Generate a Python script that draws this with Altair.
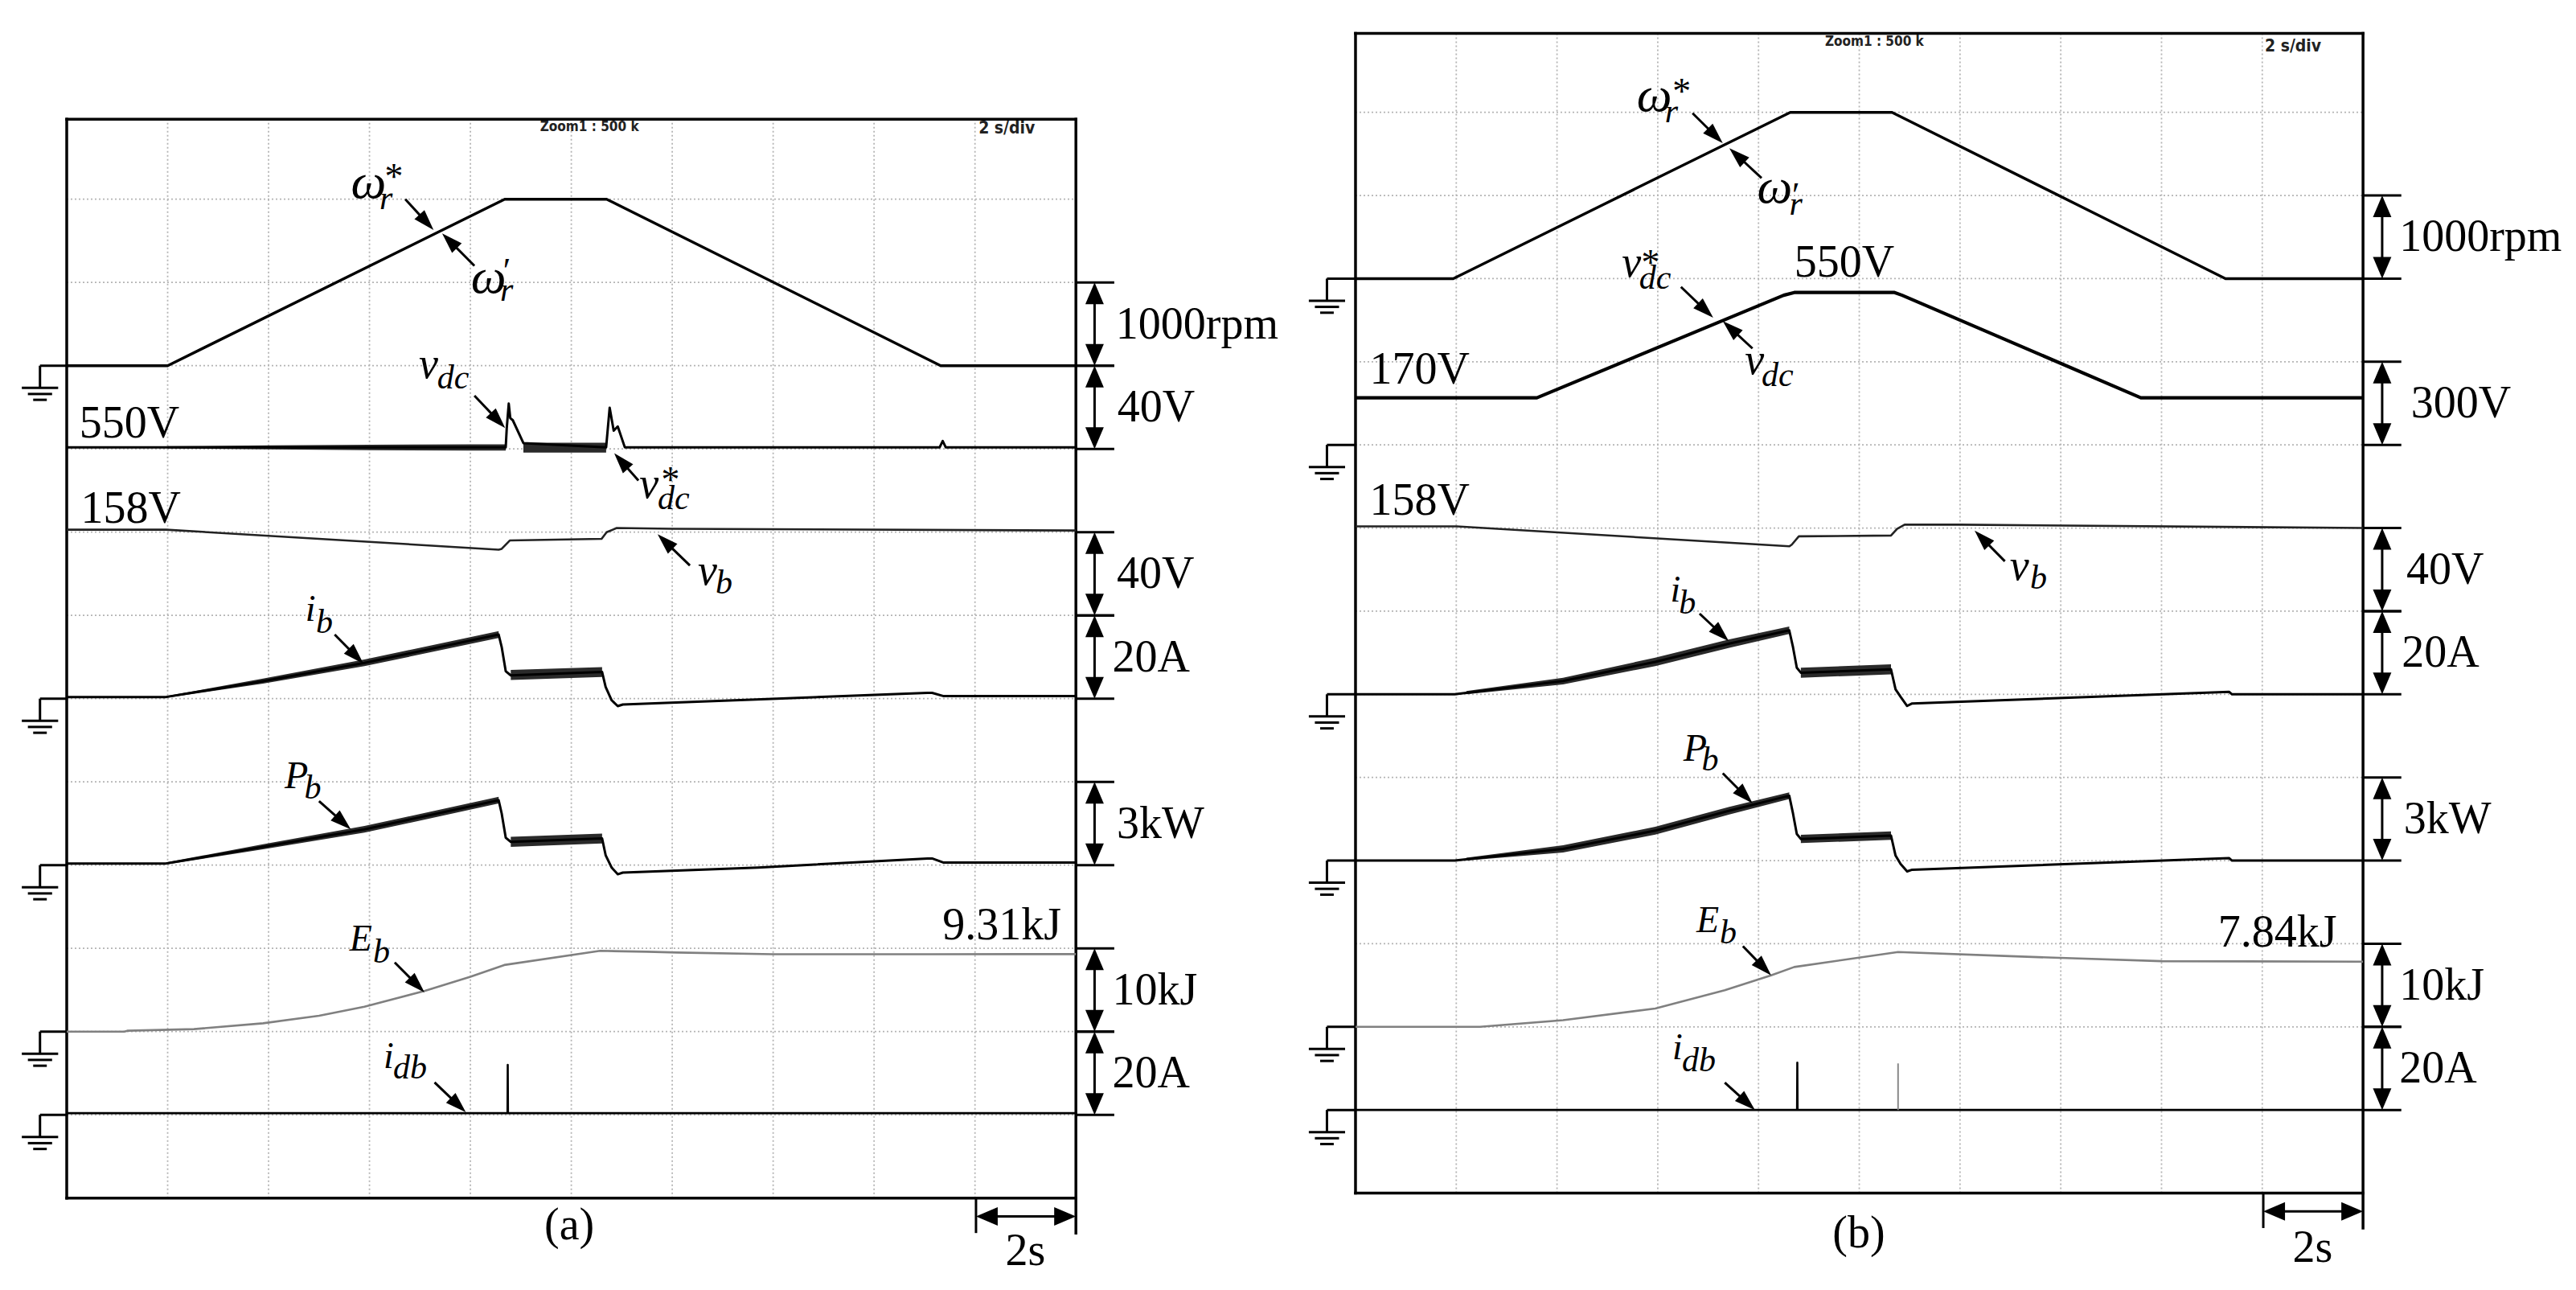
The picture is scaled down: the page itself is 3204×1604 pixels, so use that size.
import math
import altair as alt
import pandas as pd

# ======================= DATA =======================
# time in seconds (2 s/div, 10 div), traces in physical units

# ---------------- panel (a) ----------------
a_wr_t = [0, 2.0, 8.68, 10.70, 17.32, 20]
a_wr_rpm = [0, 0, 2000, 2000, 0, 0]

a_vdc_t = [0, 8.70, 8.72, 8.76, 8.79, 8.84, 9.05, 10.69, 10.76, 10.84, 10.92, 11.06, 17.30, 17.36, 17.42, 20]
a_vdc_V = [550, 550, 559, 571, 564, 563, 552, 550, 569, 558, 560, 550, 550, 553, 550, 550]
a_vdc_n1_t = [2.0, 4.0, 6.0, 8.0, 8.70]
a_vdc_n1_hi = [550.5, 550.9, 551.2, 551.4, 551.4]
a_vdc_n1_lo = [549.5, 549.0, 548.6, 548.4, 548.4]
a_vdc_n2_t = [9.05, 10.69]
a_vdc_n2_hi = [552.2, 552.2]
a_vdc_n2_lo = [547.4, 547.4]

a_vb_t = [0, 1.97, 8.56, 8.62, 8.78, 10.60, 10.70, 10.90, 12.0, 20]
a_vb_V = [158, 158, 148.4, 148.8, 152.8, 153.6, 156.8, 158.8, 158.4, 157.6]

a_ib_t = [0, 1.97, 3.89, 5.90, 8.56, 8.62, 8.70, 8.80, 10.61, 10.68, 10.80, 10.92, 11.02, 13.66, 17.06, 17.15, 17.38, 20]
a_ib_A = [0.4, 0.4, 4.2, 8.6, 15.4, 12.4, 6.6, 5.6, 6.4, 2.8, -0.4, -1.8, -1.4, -0.2, 1.4, 1.4, 0.6, 0.6]
a_ib_r_t = [1.97, 3.89, 5.90, 8.56]
a_ib_r_hi = [0.6, 4.8, 9.4, 16.2]
a_ib_r_lo = [0.2, 3.6, 7.8, 14.6]
a_ib_p_t = [8.80, 10.61]
a_ib_p_hi = [6.9, 7.6]
a_ib_p_lo = [4.5, 5.2]

a_pb_t = [0, 1.97, 3.89, 5.90, 8.56, 8.62, 8.70, 8.80, 10.61, 10.68, 10.80, 10.92, 11.02, 13.70, 17.06, 17.15, 17.38, 20]
a_pb_kW = [0.06, 0.06, 0.66, 1.29, 2.34, 1.86, 0.99, 0.84, 0.96, 0.36, -0.09, -0.33, -0.27, -0.09, 0.24, 0.24, 0.09, 0.09]
a_pb_r_t = [1.97, 3.89, 5.90, 8.56]
a_pb_r_hi = [0.10, 0.75, 1.41, 2.46]
a_pb_r_lo = [0.02, 0.57, 1.17, 2.22]
a_pb_p_t = [8.80, 10.61]
a_pb_p_hi = [1.02, 1.14]
a_pb_p_lo = [0.66, 0.78]

a_eb_t = [0, 1.14, 1.20, 2.52, 3.89, 5.0, 5.9, 7.1, 8.0, 8.67, 10.57, 11.5, 12.1, 14.0, 17.15, 20]
a_eb_kJ = [0, 0, 0.1, 0.3, 1.0, 1.9, 3.0, 4.9, 6.6, 8.0, 9.7, 9.6, 9.5, 9.3, 9.3, 9.31]

a_idb_t = [0, 8.735, 8.74, 8.745, 20]
a_idb_A = [0.4, 0.4, 12.0, 0.4, 0.4]

# ---------------- panel (b) ----------------
b_wr_t = [0, 1.94, 8.63, 10.65, 17.27, 20]
b_wr_rpm = [0, 0, 2000, 2000, 0, 0]

b_vdc_t = [0, 3.60, 8.50, 8.71, 10.70, 10.85, 15.59, 20]
b_vdc_V = [170, 170, 540, 550, 550, 540, 170, 170]

b_vb_t = [0, 2.01, 8.61, 8.66, 8.80, 10.63, 10.75, 10.90, 12.0, 20]
b_vb_V = [158, 158, 148.4, 149.2, 153.2, 153.6, 156.8, 158.8, 158.8, 157.2]

b_ib_t = [0, 1.97, 4.12, 5.95, 7.42, 8.61, 8.68, 8.76, 8.84, 10.63, 10.72, 10.82, 10.95, 11.05, 17.34, 17.40, 20]
b_ib_A = [0, 0, 3.2, 7.8, 12.2, 15.4, 11.6, 6.4, 5.2, 6.0, 1.2, -0.6, -2.8, -2.2, 0.6, 0, 0]
b_ib_r_t = [2.2, 4.12, 5.95, 7.42, 8.61]
b_ib_r_hi = [0.8, 4.0, 8.8, 13.2, 16.3]
b_ib_r_lo = [0.0, 2.4, 6.8, 11.2, 14.5]
b_ib_p_t = [8.84, 10.63]
b_ib_p_hi = [6.4, 7.2]
b_ib_p_lo = [4.0, 4.8]

b_pb_t = [0, 1.97, 4.12, 5.95, 7.42, 8.61, 8.68, 8.76, 8.84, 10.63, 10.72, 10.82, 10.95, 11.05, 17.34, 17.40, 20]
b_pb_kW = [0, 0, 0.42, 1.08, 1.80, 2.34, 1.74, 0.96, 0.78, 0.90, 0.18, -0.12, -0.39, -0.33, 0.09, 0, 0]
b_pb_r_t = [2.2, 4.12, 5.95, 7.42, 8.61]
b_pb_r_hi = [0.10, 0.55, 1.22, 1.94, 2.46]
b_pb_r_lo = [0.00, 0.29, 0.94, 1.66, 2.22]
b_pb_p_t = [8.84, 10.63]
b_pb_p_hi = [0.93, 1.05]
b_pb_p_lo = [0.63, 0.75]

b_eb_t = [0, 2.47, 4.12, 5.95, 7.33, 8.25, 8.71, 10.77, 12.99, 13.98, 16.0, 20]
b_eb_kJ = [0, 0, 0.8, 2.2, 4.4, 6.2, 7.2, 9.0, 8.5, 8.3, 7.9, 7.84]

b_idb_t = [0, 8.765, 8.77, 8.775, 20]
b_idb_A = [0, 0, 11.4, 0, 0]
b_idb2_t = [10.77, 10.77]
b_idb2_A = [0, 11.2]

# channel settings: (reference division, reference value, units per division)
CH = {
    "a": {"wr": (10, 0, 1000), "vdc": (9.02, 550, 40), "vb": (8.03, 158, 40), "ib": (6, 0, 20),
          "pb": (4, 0, 3), "eb": (2, 0, 10), "idb": (1, 0, 20)},
    "b": {"wr": (11, 0, 1000), "vdc": (9, 0, 300), "vb": (8.02, 158, 40), "ib": (6, 0, 20),
          "pb": (4, 0, 3), "eb": (2, 0, 10), "idb": (1, 0, 20)},
}

# ======================= LAYOUT =======================
PX_S = {"a": 62.75, "b": 62.65}
PX_D = {"a": 103.5, "b": 103.37}
XDOM = {"a": [-1.195, 24.49], "b": [-1.053, 24.10]}
YDOM = {"a": [-1.027, 14.316], "b": [-1.088, 14.274]}
WIDTH = {"a": 1612, "b": 1576}
HEIGHT = 1588
TOP = {"a": 12.96, "b": 13.95}
GROUND_X = {"a": -0.53, "b": -0.567}

SERIF = "Liberation Serif"
NARROW = "DejaVu Sans Condensed, Liberation Sans Narrow, Liberation Sans, sans-serif"


def sc(p):
    return (alt.Scale(domain=XDOM[p], nice=False, zero=False),
            alt.Scale(domain=YDOM[p], nice=False, zero=False))


def xy(p):
    xs, ys = sc(p)
    return dict(x=alt.X("t:Q", scale=xs, axis=None), y=alt.Y("d:Q", scale=ys, axis=None))


def todiv(p, ch, vals):
    r, v0, u = CH[p][ch]
    return [r + (v - v0) / u for v in vals]


def trace(p, ch, t, v, color="black", width=3.0):
    df = pd.DataFrame({"t": t, "d": todiv(p, ch, v), "i": list(range(len(t)))})
    return alt.Chart(df).mark_line(color=color, strokeWidth=width, strokeJoin="round").encode(
        order="i:Q", **xy(p))


def band(p, ch, t, lo, hi, color="#2a2a2a"):
    df = pd.DataFrame({"t": t, "d": todiv(p, ch, lo), "d2": todiv(p, ch, hi)})
    return alt.Chart(df).mark_area(color=color, opacity=1).encode(y2="d2:Q", **xy(p))


def rules(p, segs, color="black", width=3.0, dash=None, cap="butt"):
    df = pd.DataFrame(segs, columns=["t", "d", "t2", "d2"])
    kw = dict(color=color, strokeWidth=width, strokeCap=cap)
    if dash is not None:
        kw["strokeDash"] = dash
    return alt.Chart(df).mark_rule(**kw).encode(x2="t2:Q", y2="d2:Q", **xy(p))


def heads(p, pts, size, half):
    df = pd.DataFrame(pts, columns=["t", "d", "ang"])
    shape = f"M0,0L{-half},2L{half},2Z"
    return alt.Chart(df).mark_point(shape=shape, filled=True, color="black", opacity=1,
                                    size=size, strokeWidth=0).encode(
        angle=alt.Angle("ang:Q", scale=None), **xy(p))


def texts(p, items, font=SERIF, style="normal", align="left", color="black", weight="normal"):
    df = pd.DataFrame(items, columns=["txt", "t", "d", "s"])
    return alt.Chart(df).mark_text(font=font, fontStyle=style, align=align, fontWeight=weight,
                                   baseline="alphabetic", color=color).encode(
        text="txt:N", size=alt.Size("s:Q", scale=None), **xy(p))


# annotation content per panel
GROUNDS = {"a": [10, 6, 4, 2, 1], "b": [11, 9, 6, 4, 2, 1]}
BARS = {
    "a": [(10, 11, "1000rpm", 20.79), (9, 10, "40V", 20.82), (7, 8, "40V", 20.81), (6, 7, "20A", 20.72),
          (4, 5, "3kW", 20.81), (2, 3, "10kJ", 20.72), (1, 2, "20A", 20.72)],
    "b": [(11, 12, "1000rpm", 20.72), (9, 10, "300V", 20.95), (7, 8, "40V", 20.86), (6, 7, "20A", 20.77),
          (4, 5, "3kW", 20.81), (2, 3, "10kJ", 20.72), (1, 2, "20A", 20.72)],
}
BAR_X = {"a": 20.37, "b": 20.38}
MAIN = {
    "a": [("ω", 5.98, 12.02, 62), ("ω", 8.36, 10.88, 62), ("v", 7.17, 9.85, 54), ("v", 11.54, 8.41, 54),
          ("v", 12.70, 7.37, 54), ("i", 4.83, 6.93, 46), ("P", 4.55, 4.92, 48), ("E", 5.83, 2.97, 46),
          ("i", 6.38, 1.56, 46)],
    "b": [("ω", 5.93, 13.02, 62), ("ω", 8.32, 11.91, 62), ("v", 5.48, 11.02, 54), ("v", 7.92, 9.85, 54),
          ("v", 13.18, 7.38, 54), ("i", 6.35, 7.12, 46), ("P", 6.74, 5.20, 48), ("E", 6.99, 3.14, 46),
          ("i", 6.39, 1.61, 46)],
}
SUB = {
    "a": [("r", 6.20, 11.88, 42), ("r", 8.59, 10.78, 42), ("dc", 7.34, 9.73, 42), ("dc", 11.71, 8.28, 42),
          ("b", 12.86, 7.26, 42), ("b", 4.94, 6.79, 42), ("b", 4.71, 4.80, 42), ("b", 6.07, 2.83, 42),
          ("db", 6.47, 1.44, 42)],
    "b": [("r", 6.14, 12.88, 42), ("r", 8.61, 11.77, 42), ("dc", 5.63, 10.88, 42), ("dc", 8.06, 9.71, 42),
          ("b", 13.39, 7.27, 42), ("b", 6.42, 6.97, 42), ("b", 6.87, 5.08, 42), ("b", 7.23, 3.00, 42),
          ("db", 6.48, 1.47, 42)],
}
SUP = {
    "a": [("*", 6.45, 12.12, 46), ("′", 8.68, 11.0, 44), ("*", 11.93, 8.48, 46)],
    "b": [("*", 6.44, 13.10, 46), ("′", 8.70, 11.87, 44), ("*", 5.82, 11.04, 46)],
}
ARROWS = {
    "a": [((6.71, 12.0), (7.27, 11.63)), ((8.08, 11.2), (7.44, 11.59)), ((8.08, 9.64), (8.69, 9.25)),
          ((11.33, 8.62), (10.85, 8.95)), ((12.35, 7.60), (11.71, 7.975)), ((5.31, 6.77), (5.88, 6.42)),
          ((5.0, 4.77), (5.63, 4.43)), ((6.5, 2.83), (7.09, 2.47)), ((7.29, 1.39), (7.91, 1.03))],
    "b": [((6.69, 12.99), (7.29, 12.63)), ((8.06, 12.21), (7.42, 12.57)), ((6.46, 10.9), (7.1, 10.53)),
          ((7.88, 10.16), (7.29, 10.49)), ((12.89, 7.60), (12.29, 7.97)), ((6.83, 6.97), (7.41, 6.64)),
          ((7.29, 5.05), (7.88, 4.69)), ((7.69, 2.97), (8.25, 2.62)), ((7.33, 1.33), (7.93, 1.0))],
}
LEFT_LABELS = {
    "a": [("550V", 0.25, 9.14, 56), ("158V", 0.28, 8.11, 56)],
    "b": [("170V", 0.28, 9.74, 56), ("158V", 0.28, 8.16, 56), ("550V", 8.71, 11.02, 56)],
}
RIGHT_LABELS = {"a": [("9.31kJ", 19.71, 3.11, 56)], "b": [("7.84kJ", 19.48, 2.97, 56)]}
CAPTION = {"a": ("(a)", 9.96, -0.50), "b": ("(b)", 9.99, -0.65)}
TWO_S_Y = {"a": -0.80, "b": -0.83}
SCOPE_TXT = {
    "a": [("Zoom1 : 500 k", 10.36, 12.82, 17), ("2 s/div", 18.63, 12.79, 21)],
    "b": [("Zoom1 : 500 k", 10.30, 13.80, 17), ("2 s/div", 18.61, 13.73, 21)],
}


def panel(p):
    L = []
    top = TOP[p]
    # grid
    vg = [(t, 0, t, top) for t in range(2, 20, 2)]
    hg = [(0, d, 20, d) for d in range(1, int(top) + 1)]
    L.append(rules(p, vg + hg, color="#b4b4b4", width=1.8, dash=[2, 3]))
    # frame
    L.append(rules(p, [(0, 0, 20, 0), (0, top, 20, top), (0, 0, 0, top), (20, -0.42, 20, top)],
                   width=3.5, cap="square"))
    # noise bands (under the traces)
    D = globals()
    for name, ch in [("vdc_n1", "vdc"), ("vdc_n2", "vdc"), ("ib_r", "ib"), ("ib_p", "ib"),
                     ("pb_r", "pb"), ("pb_p", "pb")]:
        key = f"{p}_{name}_t"
        if key in D:
            L.append(band(p, ch, D[key], D[f"{p}_{name}_lo"], D[f"{p}_{name}_hi"]))
    # traces
    for ch, unit in [("wr", "rpm"), ("vdc", "V"), ("vb", "V"), ("ib", "A"), ("pb", "kW"), ("eb", "kJ"),
                     ("idb", "A")]:
        t = D[f"{p}_{ch}_t"]
        v = D[f"{p}_{ch}_{unit}"]
        color = "#808080" if ch == "eb" else ("#222222" if ch == "vb" else "black")
        width = {"wr": 3.4, "vdc": 3.0, "vb": 2.6, "ib": 3.0, "pb": 3.0, "eb": 2.6, "idb": 2.6}[ch]
        if p == "b" and ch == "vdc":
            width = 4.2
        L.append(trace(p, ch, t, v, color=color, width=width))
    if p == "b":
        L.append(trace(p, "idb", b_idb2_t, b_idb2_A, color="#888888", width=2.0))
    # ground symbols
    gx = GROUND_X[p]
    gsegs = []
    for g in GROUNDS[p]:
        gsegs += [(gx, g, 0, g), (gx, g, gx, g - 0.266),
                  (gx - 0.36, g - 0.266, gx + 0.36, g - 0.266),
                  (gx - 0.24, g - 0.34, gx + 0.24, g - 0.34),
                  (gx - 0.135, g - 0.41, gx + 0.135, g - 0.41)]
    L.append(rules(p, gsegs, width=3.0))
    # scale bars
    bx = BAR_X[p]
    bsegs, bheads, blabels = [], [], []
    for lo, hi, lab, lx in BARS[p]:
        bsegs += [(20.0, lo, 20.76, lo), (20.0, hi, 20.76, hi), (bx, lo + 0.15, bx, hi - 0.15)]
        bheads += [(bx, hi, 0), (bx, lo, 180)]
        blabels.append((lab, lx, (lo + hi) / 2 - 0.17, 56))
    # 2 s bar
    bsegs += [(18.02, 0, 18.02, -0.42), (18.22, -0.22, 19.8, -0.22)]
    bheads += [(18.02, -0.22, 270), (20.0, -0.22, 90)]
    L.append(rules(p, bsegs, width=3.0))
    L.append(heads(p, bheads, 729, 0.85))
    L.append(texts(p, blabels))
    L.append(texts(p, [("2s", 19.0, TWO_S_Y[p], 56)], align="center"))
    # annotation arrows
    asegs, aheads = [], []
    for tail, tip in ARROWS[p]:
        dx = (tip[0] - tail[0]) * PX_S[p]
        dy = -(tip[1] - tail[1]) * PX_D[p]
        ln = math.hypot(dx, dy)
        ang = math.degrees(math.atan2(dx, -dy)) % 360
        k = 1 - 13.0 / ln
        end = (tail[0] + (tip[0] - tail[0]) * k, tail[1] + (tip[1] - tail[1]) * k)
        asegs.append((tail[0], tail[1], end[0], end[1]))
        aheads.append((tip[0], tip[1], ang))
    L.append(rules(p, asegs, width=3.0))
    L.append(heads(p, aheads, 676, 0.65))
    # texts
    L.append(texts(p, MAIN[p], style="italic", align="center"))
    L.append(texts(p, SUB[p], style="italic", align="left"))
    L.append(texts(p, SUP[p], style="italic", align="center"))
    L.append(texts(p, LEFT_LABELS[p]))
    L.append(texts(p, RIGHT_LABELS[p], align="right"))
    cap = CAPTION[p]
    L.append(texts(p, [(cap[0], cap[1], cap[2], 56)], align="center"))
    L.append(texts(p, SCOPE_TXT[p], font=NARROW, align="center", color="#222222", weight="bold"))
    return alt.layer(*L).properties(width=WIDTH[p], height=HEIGHT)


chart = alt.hconcat(panel("a"), panel("b"), spacing=0, bounds="flush").properties(
    padding=0, background="white"
).configure_view(stroke=None)

chart.save("out.html", embed_options={"renderer": "svg", "actions": False})
